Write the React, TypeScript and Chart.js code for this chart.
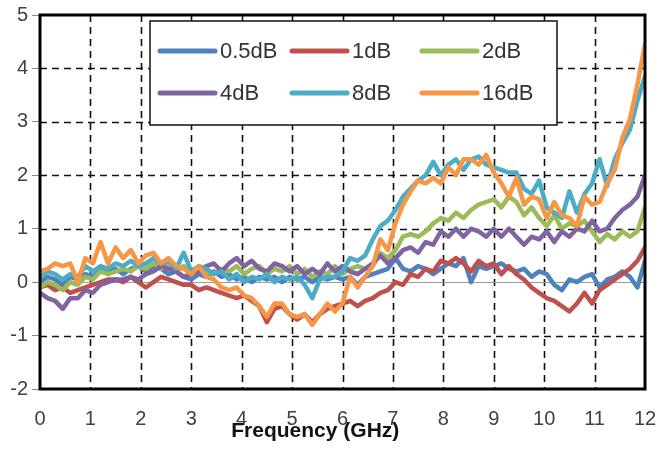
import React, { useEffect, useRef } from "react";
import { Chart, registerables } from "chart.js";

Chart.register(...registerables);

// Frequency samples (GHz)
const frequencies = [
  0, 0.15, 0.3, 0.45, 0.6, 0.75, 0.9, 1.05, 1.2, 1.35, 1.5, 1.65, 1.8, 1.95, 2.1, 2.25, 2.4, 2.55, 2.7, 2.85,
  3.0, 3.15, 3.3, 3.45, 3.6, 3.75, 3.9, 4.05, 4.2, 4.35, 4.5, 4.65, 4.8, 4.95, 5.1, 5.25, 5.4, 5.55, 5.7, 5.85,
  6.0, 6.15, 6.3, 6.45, 6.6, 6.75, 6.9, 7.05, 7.2, 7.35, 7.5, 7.65, 7.8, 7.95, 8.1, 8.25, 8.4, 8.55, 8.7, 8.85,
  9.0, 9.15, 9.3, 9.45, 9.6, 9.75, 9.9, 10.05, 10.2, 10.35, 10.5, 10.65, 10.8, 10.95, 11.1, 11.25, 11.4, 11.55, 11.7, 11.85,
  12.0,
];

const seriesLabels = ["0.5dB", "1dB", "2dB", "4dB", "8dB", "16dB"];
const seriesColors = ["#4F81BD", "#C0504D", "#9BBB59", "#8064A2", "#4BACC6", "#F79646"];
const xAxisTitle = "Frequency (GHz)";

const s0_5dB = [
  0.0, 0.1, 0.05, -0.05, 0.1, 0.05, 0.15, 0.1, 0.25, 0.2, 0.25, 0.15, 0.25, 0.3, 0.2, 0.3, 0.25, 0.15, 0.2, 0.1,
  0.05, 0.15, 0.1, 0.2, 0.1, 0.15, 0.05, 0.1, 0.0, 0.1, 0.05, 0.1, 0.0, 0.1, 0.05, 0.1, 0.0, 0.1, 0.05, 0.1,
  0.05, 0.1, -0.05, 0.1, 0.15, 0.2, 0.25, 0.45, 0.25, 0.2, 0.3, 0.25, 0.15, 0.25, 0.35, 0.3, 0.45, 0.0, 0.3, 0.25,
  0.3, 0.35, 0.25, 0.2, 0.25, 0.1, 0.2, 0.15, -0.05, -0.15, 0.05, 0.0, 0.1, 0.15, -0.1, 0.05, 0.1, 0.2, 0.1, -0.1,
  0.4,
];

const s1dB = [
  -0.1, -0.05, -0.15, -0.1, -0.2, -0.15, -0.1, -0.05, 0.0, 0.05, 0.05, 0.0, 0.1, 0.0, -0.1, 0.0, 0.1, 0.05, 0.0, -0.05,
  -0.05, -0.15, -0.1, -0.15, -0.2, -0.25, -0.3, -0.25, -0.35, -0.45, -0.75, -0.5, -0.45, -0.6, -0.7, -0.6, -0.75, -0.6, -0.5, -0.45,
  -0.4, -0.35, -0.45, -0.35, -0.3, -0.2, -0.15, 0.0, -0.05, 0.15, 0.1, 0.25, 0.2, 0.4, 0.35, 0.45, 0.35, 0.2, 0.4, 0.3,
  0.35, 0.15, 0.3, 0.15, 0.05, -0.1, -0.2, -0.3, -0.35, -0.45, -0.55, -0.4, -0.2, -0.4, -0.15, -0.05, 0.05, 0.15, 0.25, 0.4,
  0.65,
];

const s2dB = [
  -0.1, 0.0, -0.05, -0.15, 0.0, -0.05, 0.1, 0.05, 0.2, 0.15, 0.2, 0.25, 0.2, 0.3, 0.25, 0.35, 0.25, 0.35, 0.2, 0.3,
  0.15, 0.25, 0.2, 0.15, 0.25, 0.2, 0.3, 0.15, 0.25, 0.3, 0.15, 0.25, 0.2, 0.3, 0.15, 0.25, 0.1, 0.2, 0.15, 0.3,
  0.15, 0.25, 0.3, 0.25, 0.3, 0.55, 0.45, 0.6, 0.85, 0.9, 0.85, 0.95, 1.1, 1.2, 1.15, 1.3, 1.2, 1.35, 1.45, 1.5,
  1.55, 1.4, 1.6, 1.5, 1.25, 1.4, 1.2, 1.05, 1.25, 1.0, 1.1, 1.05, 1.15, 0.95, 0.75, 0.9, 0.8, 0.95, 0.85, 0.95,
  1.4,
];

const s4dB = [
  -0.2, -0.3, -0.35, -0.5, -0.3, -0.3, -0.15, -0.2, -0.05, 0.0, 0.05, 0.05, 0.1, 0.05, 0.15, 0.2, 0.3, 0.25, 0.2, 0.1,
  0.15, 0.2, 0.3, 0.35, 0.2, 0.35, 0.45, 0.3, 0.4, 0.25, 0.2, 0.35, 0.3, 0.2, 0.3, 0.15, 0.25, 0.15, 0.35, 0.2,
  0.3, 0.2, 0.15, 0.25, 0.35, 0.5, 0.35, 0.45, 0.6, 0.65, 0.55, 0.75, 0.7, 0.95, 0.85, 1.0, 0.85, 1.0, 0.95, 0.85,
  1.0, 0.85, 1.0, 0.85, 0.7, 0.85, 0.8, 0.95, 0.75, 0.95, 0.85, 1.0, 0.95, 1.15, 0.95, 1.0, 1.2, 1.35, 1.45, 1.6,
  2.0,
];

const s8dB = [
  0.1, 0.2, 0.15, 0.05, 0.15, 0.1, 0.3, 0.2, 0.3, 0.25, 0.35, 0.3, 0.4, 0.3, 0.35, 0.45, 0.35, 0.4, 0.25, 0.55,
  0.2, 0.3, 0.25, 0.15, 0.2, 0.05, 0.15, 0.0, 0.1, 0.05, 0.15, 0.0, 0.1, 0.05, 0.1, -0.05, -0.3, 0.05, 0.1, 0.1,
  0.2, 0.45, 0.4, 0.5, 0.8, 1.05, 1.15, 1.35, 1.6, 1.75, 1.9, 2.0, 2.25, 2.0, 2.2, 2.3, 2.1, 2.3, 2.35, 2.2,
  2.15, 2.1, 2.05, 2.05, 1.75, 1.65, 1.9, 1.4, 1.3, 1.2, 1.7, 1.3, 1.65, 1.85, 2.3, 1.8, 2.3, 2.6, 2.85, 3.4,
  3.85,
];

const s16dB = [
  0.2, 0.25, 0.35, 0.3, 0.35, 0.0, 0.45, 0.35, 0.75, 0.35, 0.65, 0.45, 0.6, 0.35, 0.5, 0.55, 0.35, 0.45, 0.3, 0.25,
  0.15, 0.3, 0.1, 0.05, -0.1, -0.15, -0.1, -0.25, -0.3, -0.45, -0.65, -0.4, -0.4, -0.6, -0.65, -0.6, -0.8, -0.6, -0.4, -0.55,
  -0.4, 0.1, -0.1, 0.1, 0.3, 0.8, 0.6, 1.1, 1.45, 1.7, 1.9, 1.85, 1.95, 1.85, 2.15, 2.0, 2.3, 2.3, 2.2, 2.38,
  2.05, 1.85, 1.6, 1.95, 1.45, 1.6, 1.55, 1.2, 1.5, 1.25, 1.2, 1.05, 1.6, 1.45, 1.5, 1.85, 2.1, 2.7, 3.05, 3.7,
  4.45,
];

const seriesValues = [s0_5dB, s1dB, s2dB, s4dB, s8dB, s16dB];

const Y_MIN = -2;
const Y_MAX = 5;
const X_MIN = 0;
const X_MAX = 12;

const FONT = '"Liberation Sans", Arial, Helvetica, sans-serif';

const gridPlugin = {
  id: "dashedGrid",
  beforeDatasetsDraw(chart: any) {
    const { ctx, chartArea: ca, scales } = chart;
    const xs = scales.x;
    const ys = scales.y;
    ctx.save();
    ctx.strokeStyle = "#111";
    ctx.lineWidth = 1.6;
    ctx.setLineDash([7, 5]);
    for (let v = X_MIN + 1; v < X_MAX; v++) {
      const px = Math.round(xs.getPixelForValue(v)) + 0.5;
      ctx.beginPath();
      ctx.moveTo(px, ca.top);
      ctx.lineTo(px, ca.bottom);
      ctx.stroke();
    }
    for (let v = Y_MIN + 1; v < Y_MAX; v++) {
      if (v === 0) continue;
      const py = Math.round(ys.getPixelForValue(v)) + 0.5;
      ctx.beginPath();
      ctx.moveTo(ca.left, py);
      ctx.lineTo(ca.right, py);
      ctx.stroke();
    }
    ctx.setLineDash([]);
    ctx.strokeStyle = "#9a9a9a";
    ctx.lineWidth = 1.2;
    const p0 = Math.round(ys.getPixelForValue(0)) + 0.5;
    ctx.beginPath();
    ctx.moveTo(ca.left, p0);
    ctx.lineTo(ca.right, p0);
    ctx.stroke();
    ctx.restore();
  },
  afterDatasetsDraw(chart: any) {
    const { ctx, chartArea: ca } = chart;
    ctx.save();
    // legend box
    const bx = ca.left + 110;
    const by = ca.top + 6;
    const bw = 407;
    const bh = 104;
    ctx.fillStyle = "#ffffff";
    ctx.fillRect(bx, by, bw, bh);
    ctx.strokeStyle = "#111";
    ctx.lineWidth = 1.5;
    ctx.strokeRect(bx, by, bw, bh);
    const cols = [10, 142, 272];
    const rows = [30, 72];
    ctx.font = `22px ${FONT}`;
    ctx.textBaseline = "middle";
    ctx.textAlign = "left";
    seriesLabels.forEach((lab, i) => {
      const r = Math.floor(i / 3);
      const c = i % 3;
      const x0 = bx + cols[c];
      const y0 = by + rows[r];
      ctx.strokeStyle = seriesColors[i];
      ctx.lineWidth = 5;
      ctx.lineCap = "round";
      ctx.beginPath();
      ctx.moveTo(x0, y0);
      ctx.lineTo(x0 + 55, y0);
      ctx.stroke();
      ctx.fillStyle = "#333";
      ctx.fillText(lab, x0 + 60, y0 + 1);
    });
    // plot border
    ctx.strokeStyle = "#000";
    ctx.lineWidth = 3;
    ctx.strokeRect(ca.left, ca.top, ca.right - ca.left, ca.bottom - ca.top);
    ctx.restore();
  },
  afterDraw(chart: any) {
    const { ctx, chartArea: ca } = chart;
    ctx.save();
    ctx.font = `bold 21px ${FONT}`;
    ctx.fillStyle = "#111";
    ctx.textAlign = "center";
    ctx.textBaseline = "alphabetic";
    const cx = ca.left + (ca.right - ca.left) * 0.455;
    ctx.fillText(xAxisTitle, cx, ca.bottom + 48);
    ctx.restore();
  },
};

export default function App() {
  const canvasRef = useRef<HTMLCanvasElement | null>(null);

  useEffect(() => {
    document.body.style.margin = "0";
    const canvas = canvasRef.current;
    if (!canvas) return;
    const datasets = seriesLabels.map((lab, i) => ({
      label: lab,
      data: frequencies.map((f, j) => ({ x: f, y: seriesValues[i][j] })),
      borderColor: seriesColors[i],
      backgroundColor: seriesColors[i],
      borderWidth: 4.5,
      pointRadius: 0,
      tension: 0,
      borderJoinStyle: "round" as const,
      borderCapStyle: "round" as const,
      fill: false,
      order: seriesLabels.length - i,
    }));
    const chart = new Chart(canvas, {
      type: "line",
      data: { datasets },
      plugins: [gridPlugin],
      options: {
        animation: false,
        responsive: true,
        maintainAspectRatio: false,
        layout: { padding: { top: 15, right: 14, left: 0, bottom: 0 } },
        plugins: {
          legend: { display: false },
          tooltip: { enabled: false },
        },
        scales: {
          x: {
            type: "linear",
            min: X_MIN,
            max: X_MAX,
            afterFit: (scale: any) => {
              scale.height = 61;
              scale.paddingLeft = 0;
              scale.paddingRight = 0;
            },
            ticks: {
              stepSize: 1,
              color: "#404040",
              padding: 18,
              font: { family: FONT, size: 20 },
              maxRotation: 0,
            },
            grid: { display: false, drawTicks: false },
            border: { display: false },
            title: { display: false },
          },
          y: {
            type: "linear",
            min: Y_MIN,
            max: Y_MAX,
            afterFit: (scale: any) => {
              scale.width = 40;
              scale.paddingTop = 0;
              scale.paddingBottom = 0;
            },
            ticks: {
              stepSize: 1,
              color: "#404040",
              padding: 4,
              font: { family: FONT, size: 20 },
            },
            grid: {
              display: true,
              drawOnChartArea: false,
              drawTicks: true,
              tickLength: 8,
              tickColor: "#8a8a8a",
              tickWidth: 1,
            },
            border: { display: false },
          },
        },
      },
    });
    return () => chart.destroy();
  }, []);

  return (
    <div style={{ width: 659, height: 450, position: "relative", background: "#fff" }}>
      <canvas ref={canvasRef} />
    </div>
  );
}
